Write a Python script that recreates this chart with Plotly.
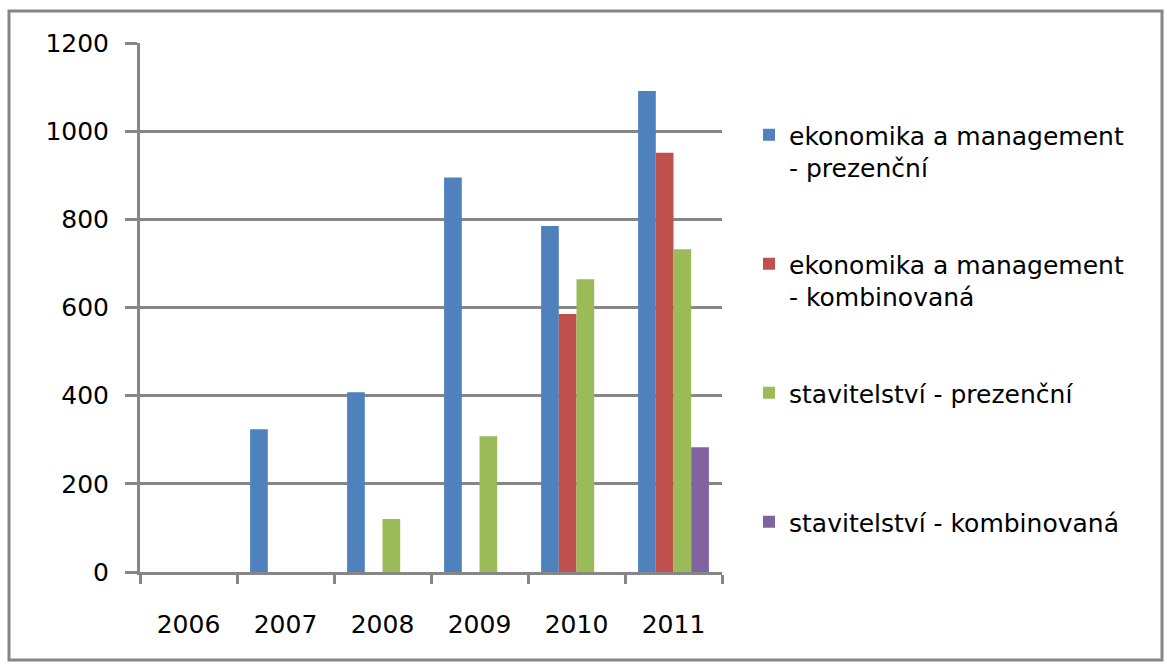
import plotly.graph_objects as go

years = ["2006", "2007", "2008", "2009", "2010", "2011"]
ek_prez = [0, 324, 408, 895, 785, 1091]
ek_komb = [0, 0, 0, 0, 585, 951]
st_prez = [0, 0, 120, 308, 664, 732]
st_komb = [0, 0, 0, 0, 0, 283]
names = [
    "ekonomika a management<br>- prezenční",
    "ekonomika a management<br>- kombinovaná",
    "stavitelství - prezenční<br> ",
    "stavitelství - kombinovaná<br> ",
]
colors = ["#4F81BD", "#C0504D", "#9BBB59", "#8064A2"]
series = [ek_prez, ek_komb, st_prez, st_komb]

W, H = 1167, 668
L, R, T, B = 140, 445, 43, 96
FONT = "DejaVu Sans"
FS = 25
GRAY = "#868686"

fig = go.Figure()
for i, (vals, name, col) in enumerate(zip(series, names, colors)):
    fig.add_trace(go.Bar(
        x=years, y=vals, name=name, legendgroup=f"g{i}",
        marker=dict(color=col, line=dict(width=0)),
    ))

pw = W - L - R
ph = H - T - B
fig.update_layout(
    width=W, height=H,
    margin=dict(l=L, r=R, t=T, b=B, autoexpand=False),
    paper_bgcolor="white", plot_bgcolor="white",
    barmode="group", bargap=0.27, bargroupgap=0,
    font=dict(family=FONT, size=FS, color="black"),
    legend=dict(
        x=(749 - L) / pw, y=(572 - 112) / ph, xanchor="left", yanchor="top",
        traceorder="grouped", tracegroupgap=61, valign="top",
        font=dict(family=FONT, size=FS, color="black"),
        bgcolor="rgba(0,0,0,0)",
    ),
    xaxis=dict(
        type="category", showgrid=False, showline=True, linecolor=GRAY, linewidth=3,
        ticks="outside", tickson="boundaries", ticklen=9, tickwidth=3, tickcolor=GRAY,
        ticklabelstandoff=28, tickfont=dict(family=FONT, size=FS, color="black"),
    ),
    yaxis=dict(
        range=[0, 1200], dtick=200, showgrid=True, gridcolor=GRAY, gridwidth=3,
        showline=True, linecolor=GRAY, linewidth=3, zeroline=False,
        ticks="outside", ticklen=12, tickwidth=3, tickcolor=GRAY,
        ticklabelstandoff=11, tickfont=dict(family=FONT, size=FS, color="black"),
    ),
    shapes=[dict(
        type="rect", xref="paper", yref="paper", layer="below",
        x0=(9 - L) / pw, x1=(1162 - L) / pw,
        y0=(H - B - 660) / ph, y1=(H - B - 11) / ph,
        line=dict(color=GRAY, width=3), fillcolor="rgba(0,0,0,0)",
    )],
)

fig.write_html("out.html", config={"displayModeBar": False},
               post_script="document.body.style.margin='0';")
